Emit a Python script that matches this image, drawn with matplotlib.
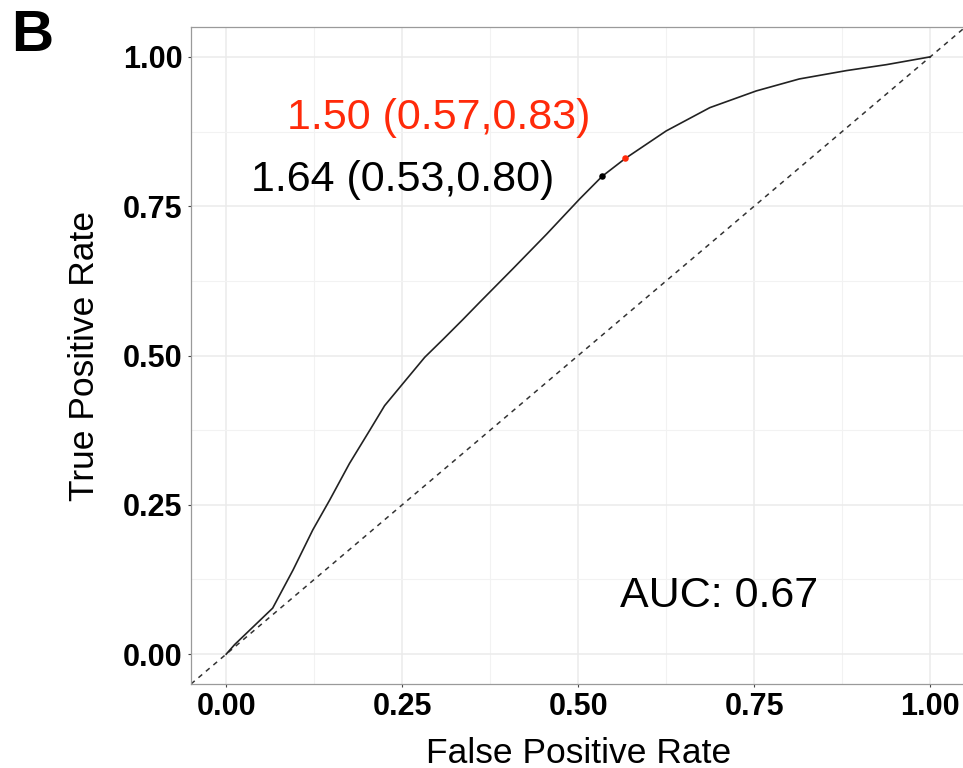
import matplotlib.pyplot as plt
from matplotlib.ticker import MultipleLocator

plt.rcParams["font.family"] = ["Liberation Sans", "DejaVu Sans"]

# ROC curve
fpr = [0.0, 0.012, 0.066, 0.095, 0.123, 0.147, 0.175, 0.204, 0.225, 0.251,
       0.282, 0.308, 0.336, 0.360, 0.407, 0.455, 0.502, 0.534, 0.567, 0.625,
       0.687, 0.753, 0.814, 0.881, 0.938, 1.0]
tpr = [0.0, 0.016, 0.077, 0.141, 0.208, 0.258, 0.319, 0.375, 0.416, 0.453,
       0.497, 0.527, 0.560, 0.589, 0.645, 0.703, 0.762, 0.800, 0.830, 0.876,
       0.915, 0.943, 0.963, 0.977, 0.987, 1.0]

cut_points = [(0.534, 0.800, "black", "1.64 (0.53,0.80)", (0.250, 0.793)),
              (0.567, 0.830, "#FF2A0A", "1.50 (0.57,0.83)", (0.302, 0.898))]
auc_text = "AUC: 0.67"
ticks = [0.0, 0.25, 0.5, 0.75, 1.0]

W, H = 963, 768
fig = plt.figure(figsize=(W / 100, H / 100), dpi=100)
ax = fig.add_axes([191 / W, 84 / H, 774.4 / W, 657 / H])

ax.set_xlim(-0.05, 1.05)
ax.set_ylim(-0.05, 1.05)

ax.xaxis.set_minor_locator(MultipleLocator(0.125))
ax.yaxis.set_minor_locator(MultipleLocator(0.125))
ax.grid(which="major", color="#EBEBEB", linewidth=1.1)
ax.grid(which="minor", color="#F2F2F2", linewidth=0.8)
ax.set_axisbelow(True)
ax.tick_params(which="minor", length=0)
ax.tick_params(which="major", length=2.5, width=0.8, color="#444444",
               labelsize=22, pad=3.5)
ax.set_xticks(ticks, ["%.2f" % t for t in ticks], fontweight="bold")
ax.set_yticks(ticks, ["%.2f" % t for t in ticks], fontweight="bold")

for side, sp in ax.spines.items():
    sp.set_color("#9A9A9A")
    sp.set_linewidth(0.9)
ax.spines["right"].set_visible(False)

# chance line
ax.plot([-0.05, 1.05], [-0.05, 1.05], color="#333333", linewidth=1.1,
        linestyle=(0, (3.2, 3.2)))
ax.plot(fpr, tpr, color="#222222", linewidth=1.2)

for x, y, c, txt, (tx, ty) in cut_points:
    ax.scatter([x], [y], s=22, color=c, zorder=4, linewidths=0)
    ax.text(tx, ty, txt, color=c, fontsize=31, ha="center", va="center")

ax.text(0.70, 0.098, auc_text, fontsize=31, ha="center", va="center")

ax.set_xlabel("False Positive Rate", fontsize=25.5, labelpad=10.5)
ax.set_ylabel("True Positive Rate", fontsize=25.5, labelpad=16)

fig.text(11 / W, 1 - 36 / H, "B", fontsize=42, fontweight="bold",
         ha="left", va="center")

fig.savefig("out.png", dpi=100, facecolor="white")
